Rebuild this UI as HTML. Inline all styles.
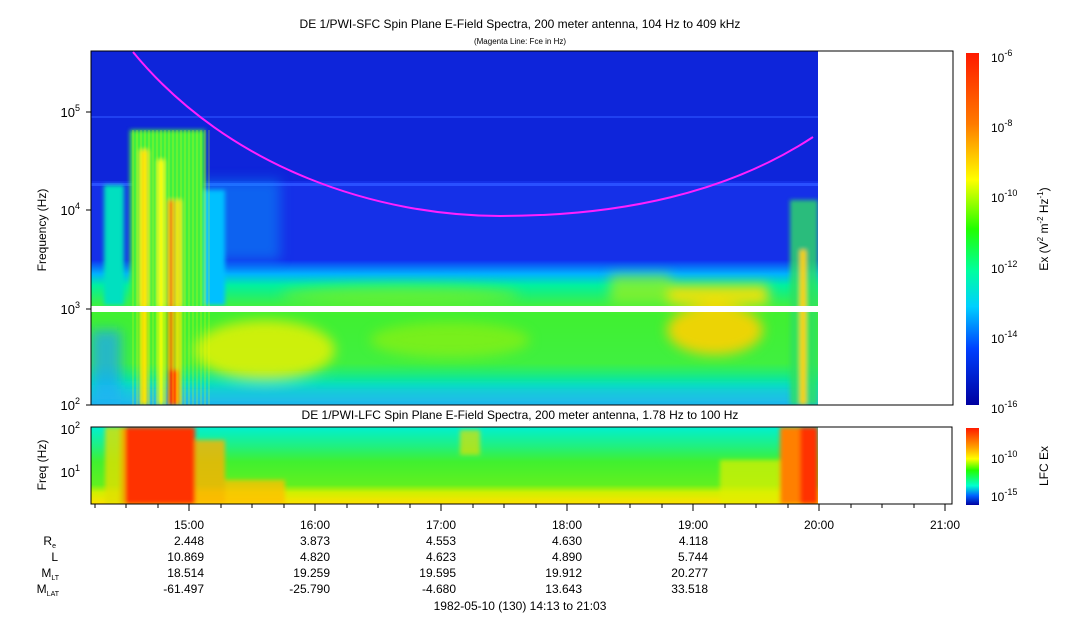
<!DOCTYPE html>
<html><head><style>
body{margin:0;background:#fff;font-family:"Liberation Sans",sans-serif;}
svg text{font-family:"Liberation Sans",sans-serif;fill:#000}
</style></head><body>
<svg width="1083" height="620" xmlns="http://www.w3.org/2000/svg">
<defs>
<linearGradient id="cb" x1="0" y1="0" x2="0" y2="1">
<stop offset="0" stop-color="#ff1a00"/><stop offset="0.2" stop-color="#ff7a00"/>
<stop offset="0.36" stop-color="#ffff00"/><stop offset="0.5" stop-color="#22ff00"/>
<stop offset="0.62" stop-color="#00ffa0"/><stop offset="0.72" stop-color="#00d0ff"/>
<stop offset="0.84" stop-color="#0040ff"/><stop offset="1" stop-color="#0000a0"/>
</linearGradient>
<linearGradient id="cb2" x1="0" y1="0" x2="0" y2="1">
<stop offset="0" stop-color="#ff1a00"/><stop offset="0.25" stop-color="#ffa000"/>
<stop offset="0.4" stop-color="#ffff00"/><stop offset="0.55" stop-color="#22ff00"/>
<stop offset="0.75" stop-color="#00ffd0"/><stop offset="0.88" stop-color="#0060ff"/>
<stop offset="1" stop-color="#0000a0"/>
</linearGradient>
<linearGradient id="band" x1="0" y1="0" x2="0" y2="1">
<stop offset="0" stop-color="#1030f0"/><stop offset="0.3" stop-color="#00b0ff"/>
<stop offset="0.55" stop-color="#00f0a0"/><stop offset="1" stop-color="#40f040"/>
</linearGradient>
<linearGradient id="low" x1="0" y1="0" x2="0" y2="1">
<stop offset="0" stop-color="#40f030"/><stop offset="0.55" stop-color="#40f040"/>
<stop offset="0.78" stop-color="#00e8b0"/><stop offset="1" stop-color="#20b0f0"/>
</linearGradient>
<linearGradient id="lf" x1="0" y1="0" x2="0" y2="1">
<stop offset="0" stop-color="#00f0d0"/><stop offset="0.25" stop-color="#20f080"/>
<stop offset="0.45" stop-color="#40f030"/><stop offset="0.75" stop-color="#60f020"/>
<stop offset="0.85" stop-color="#d0f000"/><stop offset="1" stop-color="#ffe000"/>
</linearGradient>
<filter id="bl"><feGaussianBlur stdDeviation="6"/></filter>
<filter id="bl2"><feGaussianBlur stdDeviation="2"/></filter>
<pattern id="vs" width="4" height="10" patternUnits="userSpaceOnUse"><rect width="2" height="10" fill="#ff0" opacity="0.2"/></pattern>
<clipPath id="c1"><rect x="91" y="51" width="727" height="354"/></clipPath>
<clipPath id="c2"><rect x="91" y="427" width="727" height="77"/></clipPath>
</defs>
<text x="520" y="28" font-size="12" text-anchor="middle">DE 1/PWI-SFC  Spin Plane E-Field Spectra, 200 meter antenna, 104 Hz to 409 kHz</text>
<text x="520" y="44" font-size="8" text-anchor="middle">(Magenta Line: Fce in Hz)</text>
<g clip-path="url(#c1)">
<rect x="91" y="51" width="727" height="354" fill="#1530e8"/>
<rect x="91" y="51" width="727" height="130" fill="#0a1ed0" opacity="0.6"/>
<rect x="91" y="183" width="727" height="3" fill="#2a50ff"/>
<rect x="91" y="116" width="727" height="2" fill="#2040f0"/>
<rect x="91" y="260" width="727" height="46" fill="url(#band)"/>
<rect x="91" y="312" width="727" height="93" fill="url(#low)"/>
<g filter="url(#bl)">
<ellipse cx="265" cy="350" rx="70" ry="30" fill="#f0f000" opacity="0.8"/>
<ellipse cx="450" cy="340" rx="80" ry="18" fill="#b0f000" opacity="0.5"/>
<ellipse cx="715" cy="330" rx="48" ry="25" fill="#ffd000" opacity="0.9"/>
<rect x="668" y="285" width="100" height="20" fill="#ffe000" opacity="0.9"/>
<rect x="610" y="275" width="60" height="28" fill="#c0f000" opacity="0.6"/>
<ellipse cx="400" cy="295" rx="120" ry="10" fill="#a0f000" opacity="0.5"/>
<rect x="91" y="330" width="30" height="75" fill="#20a0ff" opacity="0.7"/>
<rect x="200" y="180" width="80" height="80" fill="#00c0ff" opacity="0.35"/>
<rect x="91" y="385" width="727" height="20" fill="#20c0f0" opacity="0.5"/>
</g>
<g filter="url(#bl2)">
<rect x="130" y="130" width="75" height="175" fill="#40f040"/>
<rect x="140" y="150" width="8" height="255" fill="#ffe000"/>
<rect x="158" y="160" width="6" height="245" fill="#ffff00"/>
<rect x="168" y="200" width="6" height="205" fill="#ff8000"/>
<rect x="176" y="200" width="5" height="205" fill="#ffe000"/>
<rect x="104" y="185" width="20" height="120" fill="#00e0c0"/>
<rect x="205" y="190" width="20" height="115" fill="#00c0ff"/>
<rect x="790" y="200" width="28" height="205" fill="#30e060" opacity="0.8"/>
<rect x="800" y="250" width="6" height="155" fill="#ffd000"/>
<rect x="168" y="370" width="10" height="35" fill="#ff4000"/>
</g>
<rect x="130" y="130" width="80" height="275" fill="url(#vs)"/>
<path d="M133,52 C230,170 380,216 500,216 C640,216 740,185 813,137" fill="none" stroke="#ff20ff" stroke-width="2"/>
</g>
<rect x="91" y="306" width="727" height="6" fill="#fff"/>
<rect x="91" y="51" width="862" height="354" fill="none" stroke="#000"/>
<g stroke="#000">
<line x1="86" y1="112" x2="91" y2="112"/><line x1="86" y1="210" x2="91" y2="210"/><line x1="86" y1="309" x2="91" y2="309"/><line x1="86" y1="405" x2="91" y2="405"/>
</g>
<g font-size="13" text-anchor="end">
<text x="80" y="117">10<tspan dy="-6" font-size="9">5</tspan></text>
<text x="80" y="215">10<tspan dy="-6" font-size="9">4</tspan></text>
<text x="80" y="314">10<tspan dy="-6" font-size="9">3</tspan></text>
<text x="80" y="410">10<tspan dy="-6" font-size="9">2</tspan></text>
</g>
<text transform="translate(46,230) rotate(-90)" font-size="12" text-anchor="middle">Frequency (Hz)</text>
<rect x="966" y="53" width="13" height="352" fill="url(#cb)"/>
<g font-size="12">
<text x="991" y="62">10<tspan dy="-6" font-size="9">-6</tspan></text>
<text x="991" y="132">10<tspan dy="-6" font-size="9">-8</tspan></text>
<text x="991" y="202">10<tspan dy="-6" font-size="9">-10</tspan></text>
<text x="991" y="273">10<tspan dy="-6" font-size="9">-12</tspan></text>
<text x="991" y="343">10<tspan dy="-6" font-size="9">-14</tspan></text>
<text x="991" y="413">10<tspan dy="-6" font-size="9">-16</tspan></text>
</g>
<text transform="translate(1048,229) rotate(-90)" font-size="12" text-anchor="middle">Ex (V<tspan dy="-5" font-size="8">2</tspan><tspan dy="5"> m</tspan><tspan dy="-5" font-size="8">-2</tspan><tspan dy="5"> Hz</tspan><tspan dy="-5" font-size="8">-1</tspan><tspan dy="5">)</tspan></text>
<text x="520" y="419" font-size="12" text-anchor="middle">DE 1/PWI-LFC  Spin Plane E-Field Spectra, 200 meter antenna, 1.78 Hz to 100 Hz</text>
<g clip-path="url(#c2)">
<rect x="91" y="427" width="727" height="77" fill="url(#lf)"/>
<g filter="url(#bl2)">
<rect x="120" y="427" width="75" height="77" fill="#ff3000"/>
<rect x="105" y="427" width="20" height="77" fill="#e0e000" opacity="0.8"/>
<rect x="195" y="440" width="30" height="64" fill="#ffb000" opacity="0.8"/>
<rect x="225" y="480" width="60" height="24" fill="#ffc000" opacity="0.8"/>
<rect x="460" y="430" width="20" height="25" fill="#e0e000" opacity="0.7"/>
<rect x="720" y="460" width="60" height="44" fill="#e0f000" opacity="0.7"/>
<rect x="780" y="427" width="38" height="77" fill="#ff8000"/>
<rect x="800" y="427" width="18" height="77" fill="#ff3000"/>
</g>
</g>
<rect x="91" y="427" width="861" height="77" fill="none" stroke="#000"/>
<g font-size="13" text-anchor="end">
<text x="80" y="434">10<tspan dy="-6" font-size="9">2</tspan></text>
<text x="80" y="477">10<tspan dy="-6" font-size="9">1</tspan></text>
</g>
<text transform="translate(46,465) rotate(-90)" font-size="12" text-anchor="middle">Freq (Hz)</text>
<rect x="966" y="428" width="13" height="77" fill="url(#cb2)"/>
<g font-size="12">
<text x="991" y="463">10<tspan dy="-6" font-size="9">-10</tspan></text>
<text x="991" y="501">10<tspan dy="-6" font-size="9">-15</tspan></text>
</g>
<text transform="translate(1048,466) rotate(-90)" font-size="12" text-anchor="middle">LFC Ex</text>
<g stroke="#000">
<line x1="95" y1="504" x2="95" y2="508"/><line x1="126" y1="504" x2="126" y2="508"/><line x1="158" y1="504" x2="158" y2="508"/><line x1="189" y1="504" x2="189" y2="511"/>
<line x1="221" y1="504" x2="221" y2="508"/><line x1="252" y1="504" x2="252" y2="508"/><line x1="284" y1="504" x2="284" y2="508"/><line x1="315" y1="504" x2="315" y2="511"/>
<line x1="347" y1="504" x2="347" y2="508"/><line x1="378" y1="504" x2="378" y2="508"/><line x1="410" y1="504" x2="410" y2="508"/><line x1="441" y1="504" x2="441" y2="511"/>
<line x1="473" y1="504" x2="473" y2="508"/><line x1="504" y1="504" x2="504" y2="508"/><line x1="536" y1="504" x2="536" y2="508"/><line x1="567" y1="504" x2="567" y2="511"/>
<line x1="599" y1="504" x2="599" y2="508"/><line x1="630" y1="504" x2="630" y2="508"/><line x1="662" y1="504" x2="662" y2="508"/><line x1="693" y1="504" x2="693" y2="511"/>
<line x1="725" y1="504" x2="725" y2="508"/><line x1="756" y1="504" x2="756" y2="508"/><line x1="788" y1="504" x2="788" y2="508"/><line x1="819" y1="504" x2="819" y2="511"/>
<line x1="851" y1="504" x2="851" y2="508"/><line x1="882" y1="504" x2="882" y2="508"/><line x1="914" y1="504" x2="914" y2="508"/><line x1="945" y1="504" x2="945" y2="511"/>
</g>
<g font-size="12" text-anchor="middle">
<text x="189" y="529">15:00</text><text x="315" y="529">16:00</text><text x="441" y="529">17:00</text><text x="567" y="529">18:00</text><text x="693" y="529">19:00</text><text x="819" y="529">20:00</text><text x="945" y="529">21:00</text>
</g>
<g font-size="12" text-anchor="end">
<text x="204" y="545">2.448</text><text x="330" y="545">3.873</text><text x="456" y="545">4.553</text><text x="582" y="545">4.630</text><text x="708" y="545">4.118</text>
<text x="204" y="561">10.869</text><text x="330" y="561">4.820</text><text x="456" y="561">4.623</text><text x="582" y="561">4.890</text><text x="708" y="561">5.744</text>
<text x="204" y="577">18.514</text><text x="330" y="577">19.259</text><text x="456" y="577">19.595</text><text x="582" y="577">19.912</text><text x="708" y="577">20.277</text>
<text x="204" y="593">-61.497</text><text x="330" y="593">-25.790</text><text x="456" y="593">-4.680</text><text x="582" y="593">13.643</text><text x="708" y="593">33.518</text>
<text x="56" y="545">R<tspan font-size="7" dy="3">e</tspan></text>
<text x="58" y="561">L</text>
<text x="59" y="577">M<tspan font-size="7" dy="3">LT</tspan></text>
<text x="59" y="593">M<tspan font-size="7" dy="3">LAT</tspan></text>
</g>
<text x="520" y="610" font-size="12" text-anchor="middle">1982-05-10 (130) 14:13 to 21:03</text>
</svg>
</body></html>
